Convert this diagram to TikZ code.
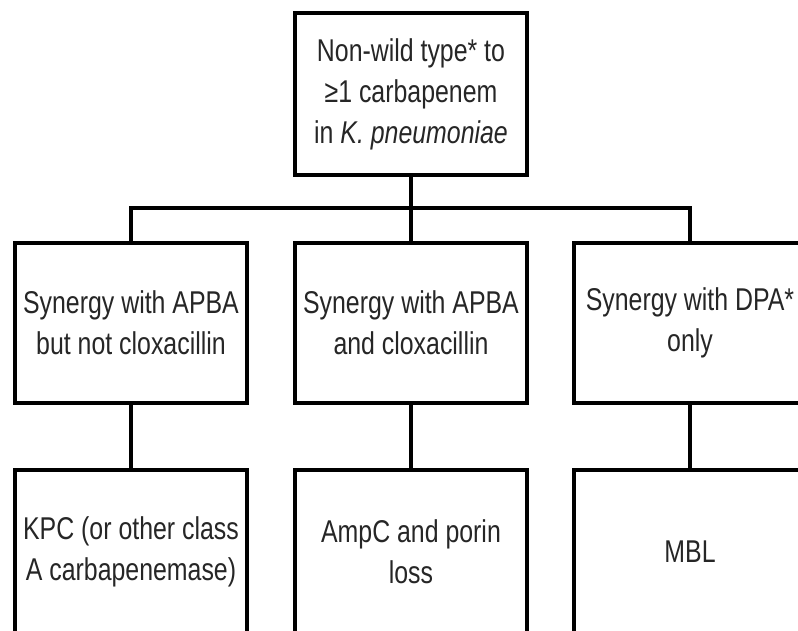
\documentclass[tikz,border=0pt]{standalone}
\usepackage{fontspec}
\newfontfamily\narrowfont[FakeStretch=0.79]{Liberation Sans}
\begin{document}
\begin{tikzpicture}[x=1pt,y=-1pt,
  box/.style={draw=black, line width=3.6pt, minimum width=232pt, minimum height=160pt,
    inner sep=0pt, align=center, text=black!85,
    font=\narrowfont\fontsize{31.5}{41}\selectfont},
  link/.style={draw=black, line width=3.6pt}]
\useasboundingbox (0,0) rectangle (798,630);
\clip (0,0) rectangle (798,630);
\fill[white] (0,0) rectangle (798,630);
\node[box, minimum height=162pt] (top) at (411,94) {Non-wild type* to\\≥1 carbapenem\\in \textit{K. pneumoniae}};
\node[box] (m1) at (131,323) {Synergy with APBA\\but not cloxacillin};
\node[box] (m2) at (411,323) {Synergy with APBA\\and cloxacillin};
\node[box] (m3) at (690,323) {Synergy with DPA*\\only};
\node[box, minimum height=164pt] (b1) at (131,552) {KPC (or other class\\A carbapenemase)};
\node[box, minimum height=164pt] (b2) at (411,552) {AmpC and porin\\loss};
\node[box, minimum height=164pt] (b3) at (690,552) {MBL};
\coordinate (bus) at (411,208);
\draw[link] (top.south) -- (bus);
\draw[link] (m1.north) -- (m1.north |- bus) -- (m3.north |- bus) -- (m3.north);
\draw[link] (bus) -- (m2.north);
\draw[link] (m1.south) -- (b1.north);
\draw[link] (m2.south) -- (b2.north);
\draw[link] (m3.south) -- (b3.north);
\end{tikzpicture}
\end{document}
